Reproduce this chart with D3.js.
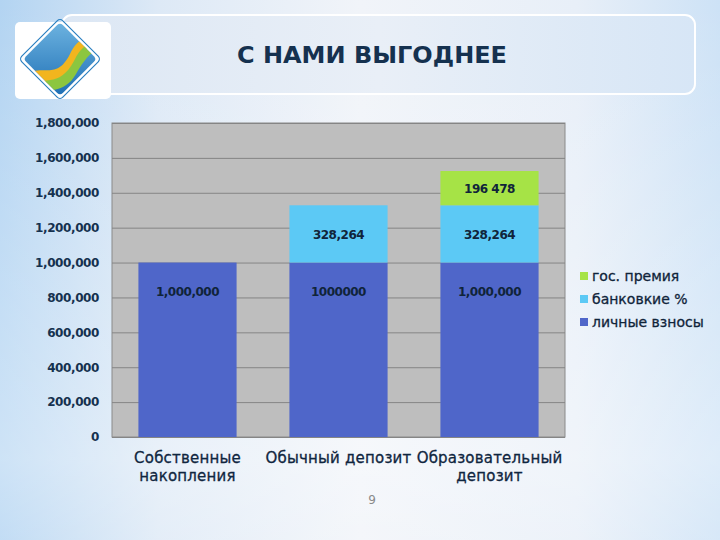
<!DOCTYPE html>
<html><head><meta charset="utf-8">
<script src="https://cdn.jsdelivr.net/npm/d3@7"></script>
<style>body{margin:0;}svg{display:block;}</style>
</head><body>
<svg id="c" width="720" height="540"></svg>
<script>
const categories = ["Собственные накопления", "Обычный депозит", "Образовательный депозит"];
const categoryLines = [["Собственные", "накопления"], ["Обычный депозит"], ["Образовательный", "депозит"]];
const seriesNames = ["личные взносы", "банковкие %", "гос. премия"];
const personal = [1000000, 1000000, 1000000];
const bankInterest = [0, 328264, 328264];
const statePremium = [0, 0, 196478];
const personalLabels = ["1,000,000", "1000000", "1,000,000"];
const bankLabels = ["", "328,264", "328,264"];
const premiumLabels = ["", "", "196 478"];
const yTicks = [0, 200000, 400000, 600000, 800000, 1000000, 1200000, 1400000, 1600000, 1800000];
const legendOrder = ["гос. премия", "банковкие %", "личные взносы"];
const title = "С НАМИ ВЫГОДНЕЕ";
const pageNumber = "9";

const colors = {"личные взносы": "#4f66c9", "банковкие %": "#5cc9f5", "гос. премия": "#a6e346"};

const svg = d3.select("#c");
const defs = svg.append("defs");
const bg = defs.append("linearGradient").attr("id", "bg").attr("x1", 0).attr("x2", 1).attr("y1", 0).attr("y2", 0);
bg.append("stop").attr("offset", "0").attr("stop-color", "#b3d4f2");
bg.append("stop").attr("offset", "0.22").attr("stop-color", "#dde9f6");
bg.append("stop").attr("offset", "0.5").attr("stop-color", "#f1f4f9");
bg.append("stop").attr("offset", "0.8").attr("stop-color", "#e8eff8");
bg.append("stop").attr("offset", "1").attr("stop-color", "#cde2f6");
svg.append("rect").attr("width", 720).attr("height", 540).attr("fill", "url(#bg)");
const bgv = defs.append("linearGradient").attr("id", "bgv").attr("x1", 0).attr("x2", 0).attr("y1", 0).attr("y2", 1);
bgv.append("stop").attr("offset", "0").attr("stop-color", "#ffffff").attr("stop-opacity", 0);
bgv.append("stop").attr("offset", "0.85").attr("stop-color", "#ffffff").attr("stop-opacity", 0.35);
bgv.append("stop").attr("offset", "1").attr("stop-color", "#ffffff").attr("stop-opacity", 0.2);
svg.append("rect").attr("width", 720).attr("height", 540).attr("fill", "url(#bgv)");

// title box
const tb = defs.append("linearGradient").attr("id", "tb").attr("x1", 0).attr("x2", 1);
tb.append("stop").attr("offset", "0").attr("stop-color", "#dce7f4");
tb.append("stop").attr("offset", "0.5").attr("stop-color", "#e9eff7");
tb.append("stop").attr("offset", "1").attr("stop-color", "#d7e6f6");
svg.append("rect").attr("x", 62).attr("y", 15).attr("width", 633).attr("height", 79).attr("rx", 10)
  .attr("fill", "url(#tb)").attr("stroke", "#ffffff").attr("stroke-width", 2);
svg.append("text").attr("x", 372).attr("y", 63).attr("text-anchor", "middle")
  .attr("font-family", "'DejaVu Sans'").attr("font-weight", "bold").attr("font-size", 23)
  .attr("fill", "#15314f").attr("textLength", 270).attr("lengthAdjust", "spacingAndGlyphs").text(title);

// logo
svg.append("rect").attr("x", 15).attr("y", 22).attr("width", 96).attr("height", 77).attr("rx", 5).attr("fill", "#ffffff");
const lg = svg.append("g").attr("transform", "translate(60,59)");
const dg = defs.append("linearGradient").attr("id", "dg").attr("x1", 0).attr("y1", 0).attr("x2", 1).attr("y2", 1);
dg.append("stop").attr("offset", "0").attr("stop-color", "#6db3e0");
dg.append("stop").attr("offset", "1").attr("stop-color", "#1e6fb5");
lg.append("rect").attr("x", -26).attr("y", -26).attr("width", 52).attr("height", 52).attr("rx", 4)
  .attr("transform", "rotate(45)").attr("fill", "url(#dg)");
lg.append("rect").attr("x", -29).attr("y", -29).attr("width", 58).attr("height", 58).attr("rx", 4)
  .attr("transform", "rotate(45)").attr("fill", "none").attr("stroke", "#2a7fc0").attr("stroke-width", 1.2);
const clip = defs.append("clipPath").attr("id", "dc");
clip.append("rect").attr("x", -26).attr("y", -26).attr("width", 52).attr("height", 52).attr("rx", 4).attr("transform", "rotate(45)");
const wg = lg.append("g").attr("clip-path", "url(#dc)");
wg.append("path").attr("d", "M-40,20 C-20,0 -5,25 10,-5 C20,-25 30,-20 40,-30 L40,-20 C25,-10 20,-5 12,10 C0,35 -20,15 -40,35 Z").attr("fill", "#f2b51e");
wg.append("path").attr("d", "M-40,28 C-20,15 -2,32 14,2 C22,-15 30,-15 40,-22 L40,-12 C28,-5 22,5 16,15 C2,40 -20,25 -40,42 Z").attr("fill", "#8cc63f");

// chart
const margin = {left: 112, right: 565, top: 123, bottom: 437};
const x = d3.scaleBand().domain(categories).range([margin.left, margin.right]).paddingInner(0.35).paddingOuter(0.175);
const y = d3.scaleLinear().domain([0, 1800000]).range([margin.bottom, margin.top]);

const chart = svg.append("g");
chart.append("rect").attr("x", margin.left).attr("y", margin.top).attr("width", margin.right - margin.left)
  .attr("height", margin.bottom - margin.top).attr("fill", "#bebebe").attr("stroke", "#8a8a8a").attr("stroke-width", 1);

const yAxis = d3.axisLeft(y).tickValues(yTicks).tickSize(-(margin.right - margin.left)).tickFormat(d3.format(","));
const ya = chart.append("g").attr("transform", `translate(${margin.left},0)`).call(yAxis);
ya.select(".domain").remove();
ya.selectAll(".tick line").attr("stroke", "#858585").attr("stroke-width", 1);
ya.selectAll(".tick text").attr("x", -13).attr("font-family", "'DejaVu Sans'").attr("font-size", 12)
  .attr("fill", "#15314f").attr("font-weight", "bold").attr("letter-spacing", "-0.4");

const stackData = categories.map((c, i) => ({cat: c, "личные взносы": personal[i], "банковкие %": bankInterest[i], "гос. премия": statePremium[i]}));
const stacked = d3.stack().keys(seriesNames)(stackData);
const labelsBySeries = {"личные взносы": personalLabels, "банковкие %": bankLabels, "гос. премия": premiumLabels};

stacked.forEach(s => {
  const g = chart.append("g");
  g.selectAll("rect").data(s.filter(d => d[1] > d[0])).join("rect")
    .attr("x", d => x(d.data.cat)).attr("width", x.bandwidth())
    .attr("y", d => y(d[1])).attr("height", d => y(d[0]) - y(d[1]))
    .attr("fill", colors[s.key]);
  g.selectAll("text").data(s.map((d, i) => ({d, i})).filter(o => o.d[1] > o.d[0])).join("text")
    .attr("x", o => x(o.d.data.cat) + x.bandwidth() / 2)
    .attr("y", o => s.key === "личные взносы" ? y(o.d[1]) + 33 : (y(o.d[0]) + y(o.d[1])) / 2 + 5)
    .attr("text-anchor", "middle").attr("font-family", "'DejaVu Sans'").attr("font-weight", "bold")
    .attr("font-size", 12).attr("fill", "#10243a").attr("letter-spacing", "-0.5")
    .text(o => labelsBySeries[s.key][o.i]);
});

// x labels
categories.forEach((c, i) => {
  const t = chart.append("text").attr("text-anchor", "middle").attr("font-family", "'DejaVu Sans'")
    .attr("font-size", 15).attr("fill", "#10263f").attr("stroke", "#10263f").attr("stroke-width", 0.3).attr("letter-spacing", "0.2");
  categoryLines[i].forEach((line, j) => {
    t.append("tspan").attr("x", x(c) + x.bandwidth() / 2).attr("y", 463 + j * 18).text(line);
  });
});

// legend
const legend = svg.append("g");
legendOrder.forEach((k, i) => {
  const yy = 279 + i * 23;
  legend.append("rect").attr("x", 580).attr("y", yy - 7).attr("width", 8).attr("height", 8).attr("fill", colors[k]);
  legend.append("text").attr("x", 592).attr("y", yy + 2).attr("font-family", "'DejaVu Sans'")
    .attr("font-size", 14).attr("fill", "#10243a").attr("stroke", "#10243a").attr("stroke-width", 0.3).text(k);
});

svg.append("text").attr("x", 372).attr("y", 504).attr("text-anchor", "middle").attr("font-family", "'DejaVu Sans'")
  .attr("font-size", 12).attr("fill", "#8a8a8a").text(pageNumber);
</script>
</body></html>
